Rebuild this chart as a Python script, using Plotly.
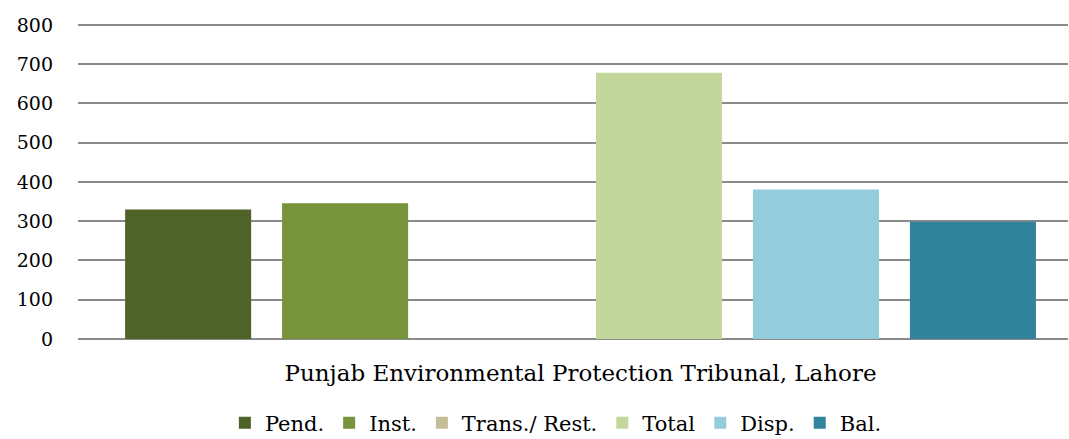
import plotly.graph_objects as go

category = ["Punjab Environmental Protection Tribunal, Lahore"]
series_names = ["Pend.", "Inst.", "Trans./ Rest.", "Total", "Disp.", "Bal."]
series_values = [330, 346, 0, 678, 381, 299]
colors = ["#4f6228", "#77933c", "#c4bd97", "#c3d69b", "#93cddd", "#31849b"]
y_ticks = [0, 100, 200, 300, 400, 500, 600, 700, 800]

fig = go.Figure()
for name, val, col in zip(series_names, series_values, colors):
    fig.add_trace(go.Bar(x=category, y=[val], name=name, marker=dict(color=col, line=dict(width=0))))

font_family = '"DejaVu Serif", "Liberation Serif", serif'
fig.update_layout(
    width=1069, height=439, autosize=False,
    margin=dict(l=78, r=1, t=23, b=100),
    plot_bgcolor="white", paper_bgcolor="white",
    barmode="group", bargap=0.063, bargroupgap=0.197,
    font=dict(family=font_family, color="#000000"),
    legend=dict(orientation="h", x=0.52, xanchor="center", xref="container",
                y=0.036, yanchor="middle", yref="container",
                font=dict(size=21, family=font_family), itemwidth=30, traceorder="normal"),
    xaxis=dict(type="category", range=[-0.5, 0.485], showgrid=False, showline=False,
               tickfont=dict(size=23, family=font_family), ticks="", automargin=False,
               ticklabelstandoff=18),
    yaxis=dict(range=[0, 805], tickvals=y_ticks, showgrid=True, gridcolor="#8a8a8a", gridwidth=2,
               zeroline=True, zerolinecolor="#8a8a8a", zerolinewidth=2, automargin=False,
               tickfont=dict(size=19, family=font_family), ticks="", ticklabelstandoff=24),
)

fig.write_html("out.html", config={"displayModeBar": False},
               post_script="document.body.style.margin='0';document.body.style.overflow='hidden';")
